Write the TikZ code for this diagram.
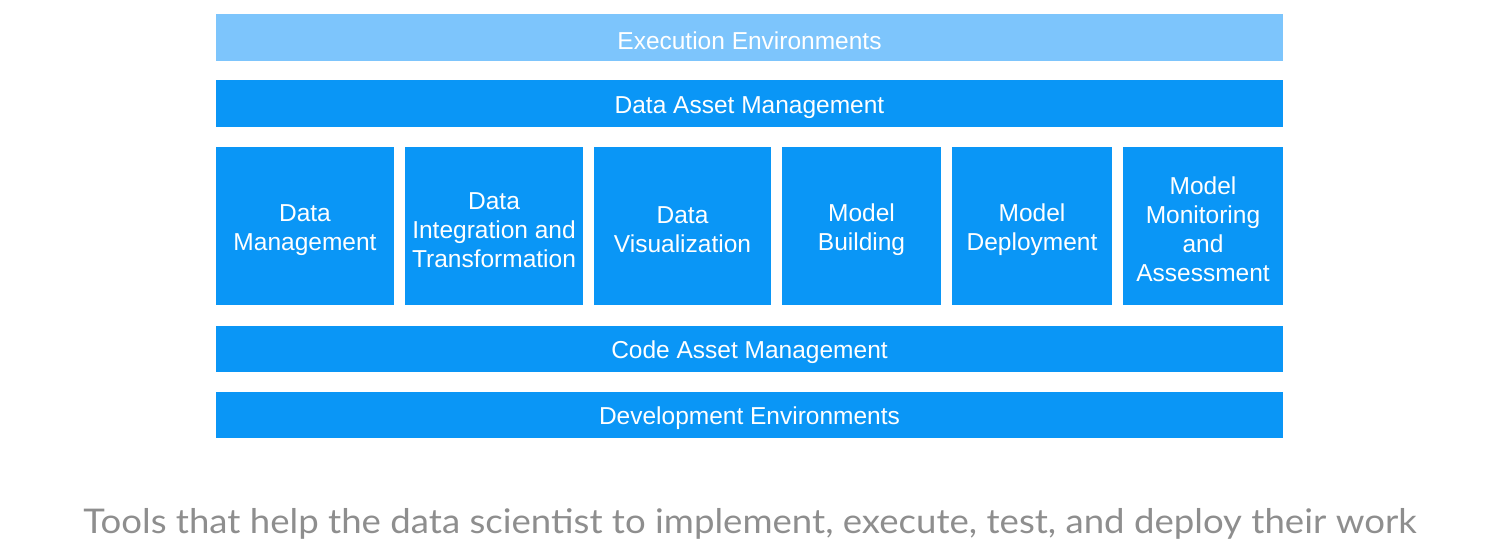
\documentclass[tikz,border=0pt]{standalone}
\usepackage{fontspec}
\setmainfont{Liberation Sans}
\newfontfamily\captionfont[FakeStretch=1.076]{Lato}
\definecolor{toolblue}{HTML}{0A96F6}
\definecolor{execblue}{HTML}{7DC5FC}
\definecolor{captiongray}{HTML}{8E8E8E}
\newcommand\boxstrut{\rule{0pt}{25pt}}
\begin{document}
\begin{tikzpicture}[x=1pt,y=-1pt,
	layer bar/.style = {rectangle, fill=toolblue, text=white, inner sep=0pt,
		minimum width=1067pt, minimum height=47pt, font=\fontsize{24.5}{29}\selectfont,
		execute at begin node=\boxstrut},
	tool box/.style = {rectangle, fill=toolblue, text=white, inner sep=0pt, align=center,
		minimum height=158pt, font=\fontsize{24.5}{29}\selectfont}]
	\useasboundingbox (0,0) rectangle (1508,547);
	\node[layer bar,fill=execblue] (exec) at (749.5,37.5) {Execution Environments};
	\node[layer bar] (dataasset) at (749.5,103.5) {Data Asset Management};
	\node[tool box,minimum width=178pt] (datamgmt) at (305,226) {\boxstrut Data\\Management};
	\node[tool box,minimum width=178pt] (integ) at (494,226) {\boxstrut Data\\Integration and\\Transformation};
	\node[tool box,minimum width=177pt] (vis) at (682.5,226) {\boxstrut Data\\Visualization};
	\node[tool box,minimum width=159pt] (build) at (861.5,226) {\boxstrut Model\\Building};
	\node[tool box,minimum width=160pt] (deploy) at (1032,226) {\boxstrut Model\\Deployment};
	\node[tool box,minimum width=160pt] (monitor) at (1203,226) {\boxstrut Model\\Monitoring\\and\\Assessment};
	\node[layer bar,minimum height=46pt] (codeasset) at (749.5,349) {Code Asset Management};
	\node[layer bar,minimum height=46pt] (devenv) at (749.5,415) {Development Environments};
	\node[anchor=base,inner sep=0pt,text=captiongray,font=\captionfont\fontsize{34}{40}\selectfont] (caption) at (750,533)
		{Tools that help the data scientist to implement, execute, test, and deploy their work};
\end{tikzpicture}
\end{document}
